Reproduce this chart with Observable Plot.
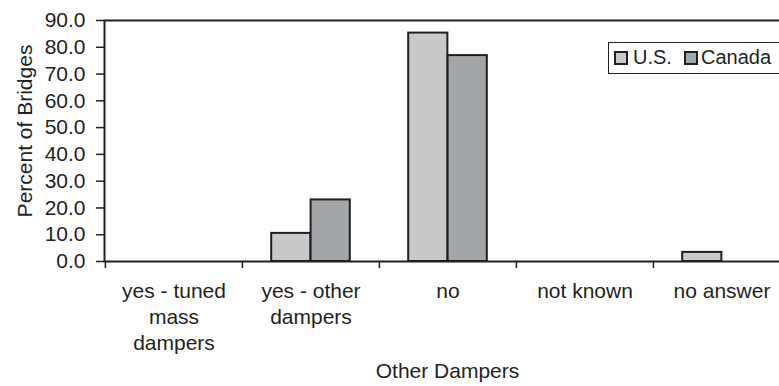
<!DOCTYPE html>
<html>
<head>
<meta charset="utf-8">
<script src="https://cdn.jsdelivr.net/npm/d3@7"></script>
<script src="https://cdn.jsdelivr.net/npm/@observablehq/plot@0.6"></script>
<style>
  html, body { margin: 0; padding: 0; background: #fff; overflow: hidden; }
  #chart {
    position: relative; width: 779px; height: 386px; overflow: hidden;
    font-family: "Liberation Sans", Arial, Helvetica, sans-serif; color: #231f20;
  }
  #chart svg { max-width: none; display: block; }
  .legend {
    position: absolute; left: 608px; top: 42px; width: 200px; height: 32px;
    box-sizing: border-box; border: 1px solid #231f20; background: #fff;
    font-size: 20px;
  }
  .legend .swatch {
    position: absolute; top: 8px; width: 14px; height: 14px; box-sizing: border-box;
    border: 2px solid #231f20;
  }
  .legend .label { position: absolute; top: 3px; line-height: 23px; white-space: nowrap; }
</style>
</head>
<body>
<div id="chart"></div>
<script>
// Bridges with other (non-tuned) damping devices, by country
const categories = ["yes - tuned mass dampers", "yes - other dampers", "no", "not known", "no answer"];
const tickLabels = ["yes - tuned\nmass\ndampers", "yes - other\ndampers", "no", "not known", "no answer"];
const seriesNames = ["U.S.", "Canada"];
const usValues = [0, 10.5, 85.3, 0, 3.4];
const canadaValues = [0, 23.0, 76.9, 0, 0];
const yTicks = [0, 10, 20, 30, 40, 50, 60, 70, 80, 90];

const seriesFills = ["#c8c9cb", "#a3a6a9"];
const ink = "#231f20";

const rows = categories.flatMap((c, i) => [
  {category: c, series: seriesNames[0], value: usValues[i]},
  {category: c, series: seriesNames[1], value: canadaValues[i]}
]);

const W = 800, H = 386;
const mL = 104, mR = 10, mT = 20, mB = 125;
const plotW = W - mL - mR;
const bw = plotW / categories.length;
const barW = 39.4;
const font = "'Liberation Sans', Arial, Helvetica, sans-serif";

const plot = Plot.plot({
  width: W, height: H,
  marginLeft: mL, marginRight: mR, marginTop: mT, marginBottom: mB,
  style: {fontFamily: font, fontSize: "21px", color: ink, background: "#fff"},
  x: {domain: categories, padding: 0, axis: null},
  y: {domain: [0, 90], axis: null},
  marks: [
    Plot.barY(rows.filter(d => d.series === seriesNames[0] && d.value > 0), {
      x: "category", y: "value", fill: seriesFills[0], stroke: ink, strokeWidth: 2,
      insetLeft: bw / 2 - barW, insetRight: bw / 2
    }),
    Plot.barY(rows.filter(d => d.series === seriesNames[1] && d.value > 0), {
      x: "category", y: "value", fill: seriesFills[1], stroke: ink, strokeWidth: 2,
      insetLeft: bw / 2, insetRight: bw / 2 - barW
    }),
    // short y ticks left of the axis, and their labels
    Plot.ruleY(yTicks, {y: d => d, insetLeft: -8, insetRight: plotW, stroke: ink, strokeWidth: 1.5}),
    Plot.text(yTicks, {
      y: d => d, frameAnchor: "left", dx: -19, textAnchor: "end",
      text: d3.format(".1f"), fontSize: 21, fill: ink
    }),
    Plot.axisX({
      tickSize: 0, tickPadding: 18, lineHeight: 1.24, label: null, fontSize: 21,
      tickFormat: d => tickLabels[categories.indexOf(d)]
    }),
    // category boundary ticks below the baseline
    Plot.ruleX(categories, {x: d => d, dx: -bw / 2, y1: 0, y2: 0, insetBottom: -7, stroke: ink, strokeWidth: 1.5}),
    Plot.frame({stroke: ink, strokeWidth: 2}),
    Plot.text(["Percent of Bridges"], {
      frameAnchor: "left", textAnchor: "middle", rotate: -90,
      dx: -79, dy: -10, fontSize: 21, fill: ink
    }),
    Plot.text(["Other Dampers"], {frameAnchor: "bottom", dy: 116, fontSize: 21, fill: ink})
  ]
});

const chart = document.getElementById("chart");
chart.appendChild(plot);

// legend box inside the plot's upper right
const legend = document.createElement("div");
legend.className = "legend";
const swatchLeft = [5, 75];
const labelLeft = [24, 92];
seriesNames.forEach((name, i) => {
  const sw = document.createElement("div");
  sw.className = "swatch";
  sw.style.left = swatchLeft[i] + "px";
  sw.style.background = seriesFills[i];
  const label = document.createElement("span");
  label.className = "label";
  label.style.left = labelLeft[i] + "px";
  label.textContent = name;
  legend.appendChild(sw);
  legend.appendChild(label);
});
chart.appendChild(legend);
</script>
</body>
</html>
